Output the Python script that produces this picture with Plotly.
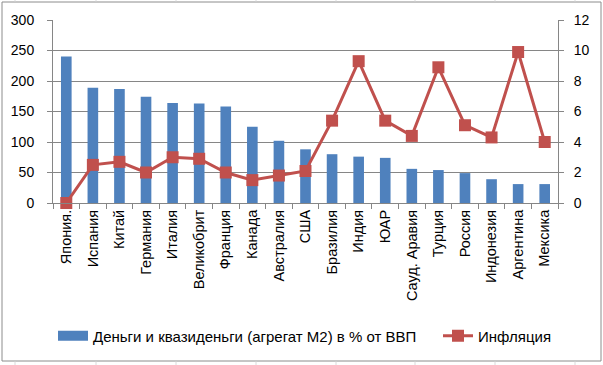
import plotly.graph_objects as go

countries = ["Япония.", "Испания", "Китай", "Германия", "Италия", "Великобрит", "Франция",
             "Канада", "Австралия", "США", "Бразилия", "Индия", "ЮАР", "Сауд. Аравия",
             "Турция", "Россия", "Индонезия", "Аргентина", "Мексика"]
m2_pct_gdp = [240, 189, 187, 174, 164, 163, 158, 125, 102, 88, 80, 76, 74, 56, 54, 49, 39, 31, 31]
inflation = [0.0, 2.5, 2.7, 2.0, 3.0, 2.9, 2.0, 1.5, 1.8, 2.1, 5.4, 9.3, 5.4, 4.4, 8.9, 5.1, 4.3, 9.9, 4.0]
bar_name = "Деньги и квазиденьги (агрегат М2) в % от ВВП"
line_name = "Инфляция"

FONT = "Liberation Sans"
W, H = 603, 365
L, T = 53, 20
PW, PH = 505, 183
R, B = W - L - PW, H - T - PH


def px_x(x):  # screen x -> paper
    return (x - L) / PW


def px_y(y):  # screen y -> paper
    return (T + PH - y) / PH


fig = go.Figure()
fig.add_trace(go.Bar(
    x=countries, y=m2_pct_gdp, name=bar_name, showlegend=False,
    marker=dict(color="#4F81BD", line=dict(width=0)), yaxis="y",
))
# legend entry drawn as a wide flat rectangle like the original
fig.add_trace(go.Scatter(
    x=[None], y=[None], name=bar_name, mode="lines",
    line=dict(color="#4F81BD", width=10), showlegend=True, legend="legend",
))
fig.add_trace(go.Scatter(
    x=countries, y=inflation, name=line_name, mode="lines+markers",
    line=dict(color="#C0504D", width=3),
    marker=dict(symbol="square", size=12, color="#C0504D"),
    yaxis="y2", cliponaxis=False, legend="legend2",
))

axis_grey = "#868686"
shapes = [dict(type="rect", xref="paper", yref="paper",
               x0=px_x(2), x1=px_x(601), y0=px_y(361), y1=px_y(2),
               line=dict(color="#8c8c8c", width=1), fillcolor="rgba(0,0,0,0)", layer="below")]
for gx in [15, 96, 176, 256, 336, 415, 495, 575]:
    for (a, b) in [(361.5, 365), (0, 1.5)]:
        shapes.append(dict(type="line", xref="paper", yref="paper",
                           x0=px_x(gx), x1=px_x(gx), y0=px_y(a), y1=px_y(b),
                           line=dict(color="#dadada", width=1), layer="below"))

fig.update_layout(
    width=W, height=H,
    margin=dict(l=L, r=R, t=T, b=B, pad=0, autoexpand=False),
    paper_bgcolor="white", plot_bgcolor="white",
    font=dict(family=FONT, size=14, color="black"),
    bargap=0.6,
    showlegend=True,
    legend=dict(orientation="h", x=px_x(53), xanchor="left", y=px_y(336), yanchor="middle",
                font=dict(size=15), itemwidth=30, bgcolor="rgba(0,0,0,0)"),
    legend2=dict(orientation="h", x=px_x(438), xanchor="left", y=px_y(336), yanchor="middle",
                 font=dict(size=15), itemwidth=30, bgcolor="rgba(0,0,0,0)"),
    xaxis=dict(
        type="category", range=[-0.5, len(countries) - 0.5], autorange=False,
        tickangle=-90, ticks="outside", tickson="boundaries",
        ticklen=5, tickcolor=axis_grey, showline=True, linecolor=axis_grey,
        showgrid=False, tickfont=dict(size=14.5), automargin=False,
    ),
    yaxis=dict(
        range=[0, 300], autorange=False, dtick=50, showgrid=True, gridcolor=axis_grey, gridwidth=1,
        showline=True, linecolor=axis_grey, ticks="outside", ticklen=5, ticklabelstandoff=10,
        tickcolor=axis_grey, zeroline=False, tickfont=dict(size=14), automargin=False,
    ),
    yaxis2=dict(
        range=[0, 12], autorange=False, dtick=2, overlaying="y", side="right", showgrid=False,
        showline=True, linecolor=axis_grey, ticks="outside", ticklen=5, ticklabelstandoff=7,
        tickcolor=axis_grey, zeroline=False, tickfont=dict(size=14), automargin=False,
    ),
    shapes=shapes,
)

fig.write_html("out.html", config={"displayModeBar": False},
               post_script="document.body.style.margin='0';")
